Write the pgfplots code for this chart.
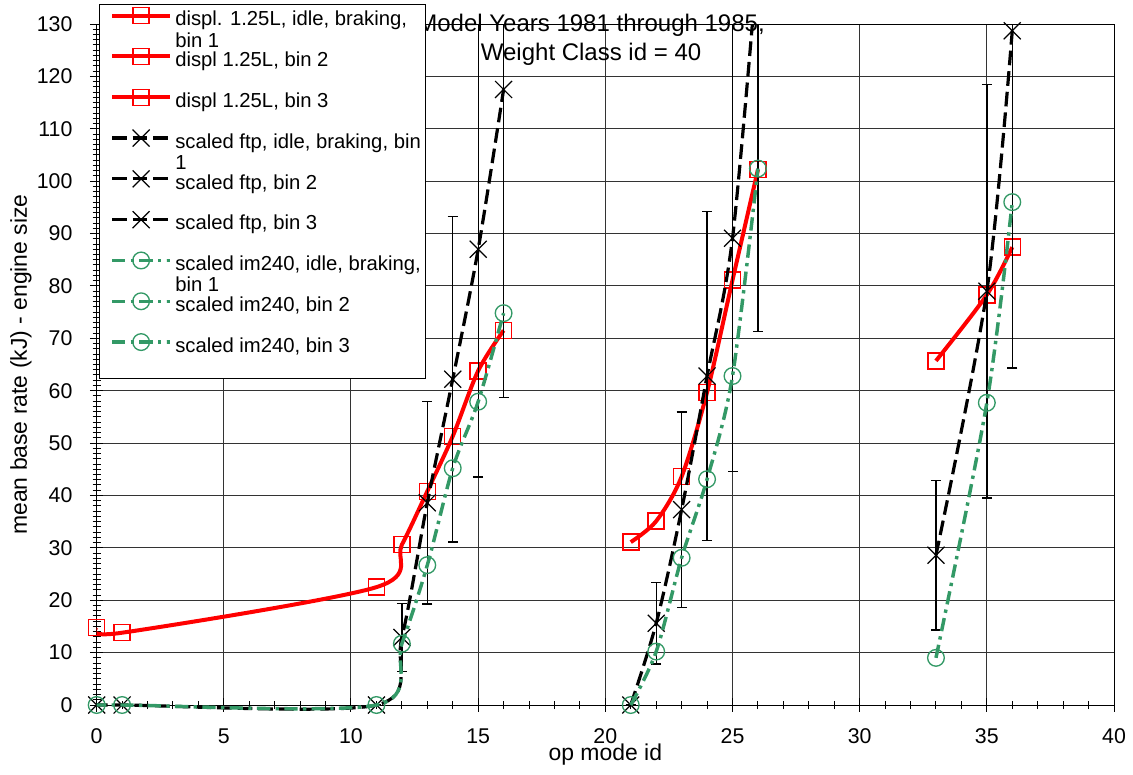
\documentclass[border=0pt]{standalone}
\usepackage{fontspec}
\setmainfont{Liberation Sans}
\usepackage{pgfplots}
\pgfplotsset{compat=1.18}
\definecolor{grn}{RGB}{51,153,102}
\pgfplotsset{
  redst/.style={color=red, line width=3pt, smooth, mark=square, mark size=6pt,
    mark options={solid, line width=1.1pt, fill=none}},
  blkst/.style={color=black, line width=2.4pt, smooth, dash pattern=on 11pt off 4.5pt,
    mark=x, mark size=9pt, mark options={solid, line width=0.9pt}},
  grnst/.style={color=grn, line width=2.6pt, smooth, dash pattern=on 10pt off 4pt on 2.5pt off 4pt,
    mark=o, mark size=6.25pt, mark options={solid, line width=1pt, fill=none}},
  errst/.style={error bars/y dir=both, error bars/y explicit,
    error bars/error bar style={line width=1pt, solid, black},
    error bars/error mark options={rotate=90, mark size=3.75pt, line width=1pt, black, solid}},
}
\begin{document}
\begin{tikzpicture}
\path[use as bounding box] (-72.5pt,-563.25pt) rectangle (777.25pt,18pt);
% ---------------- axis 1: frame, grid, red series, title
\begin{axis}[
  at={(0pt,0pt)}, anchor=north west,
  x=19.075pt, y=3.928846pt,
  xmin=0, xmax=40, ymin=0, ymax=130,
  xtick={0,5,...,40}, ytick={0,10,...,130},
  minor x tick num=4, minor y tick num=9,
  xtick pos=bottom, ytick pos=left,
  tick align=center, major tick length=10pt, minor tick length=6pt,
  tick style={black, line width=0.75pt},
  grid=major, major grid style={black!80, line width=0.75pt},
  axis line style={black, line width=0.75pt},
  tick label style={font=\fontsize{16}{19}\selectfont},
  /pgf/number format/assume math mode=true,
  xticklabel style={anchor=north, inner sep=0pt, yshift=-12.75pt},
  yticklabel style={anchor=east, inner sep=0pt, xshift=-13pt},
  xlabel={op mode id}, ylabel={mean base rate (kJ) - engine size},
  label style={font=\fontsize{17.2}{20}\selectfont},
  xlabel style={at={(axis description cs:0.5,0)}, anchor=base, yshift=-41.5pt},
  ylabel style={at={(axis description cs:-0.0685,0.5)}, anchor=base},
  clip mode=individual,
]
\addplot[redst] coordinates {(0,14.8) (1,13.8) (11,22.5) (12,30.6) (13,40.8) (14,51.3) (15,63.8) (16,71.5)};
\addplot[redst] coordinates {(21,31.1) (22,35.1) (23,43.6) (24,59.7) (25,81.1) (26,102.2)};
\addplot[redst] coordinates {(33,65.7) (35,78.3) (36,87.4)};
\node[anchor=base, font=\fontsize{18}{21}\selectfont, yshift=-5.8pt] at (axis description cs:0.486,1) {Model Years 1981 through 1985,};
\node[anchor=base, font=\fontsize{18}{21}\selectfont, yshift=-27.5pt] at (axis description cs:0.486,1) {Weight Class id = 40};
\end{axis}
% ---------------- axis 2: black and green series, legend
\begin{axis}[
  at={(0pt,0pt)}, anchor=north west,
  x=19.075pt, y=3.928846pt,
  xmin=0, xmax=40, ymin=-2, ymax=130,
  hide axis, clip mode=individual,
  legend cell align=left,
  legend image code/.code={\path[draw=none, fill=none] (0pt,-8pt) rectangle (43.7pt,8pt);
    \draw[mark repeat=2,mark phase=2,#1] plot coordinates {(0pt,0pt) (21.85pt,0pt) (43.7pt,0pt)};},
  legend style={at={(axis description cs:0,1)}, anchor=north west, xshift=10pt, yshift=14.25pt,
    draw=none, fill=none, inner sep=0pt, outer sep=0pt, row sep=14.6pt, column sep=2.25pt,
    font=\fontsize{15.2}{15.8}\selectfont,
    nodes={inner sep=0pt, text height=15.4pt, text depth=0pt}},
]
\addlegendimage{redst}
\addlegendentry{\parbox[t]{220pt}{displ. 1.25L, idle, braking,\\bin 1}}
\addlegendimage{redst}
\addlegendentry{displ 1.25L, bin 2}
\addlegendimage{redst}
\addlegendentry{displ 1.25L, bin 3}
\addplot[blkst, errst] coordinates {(0,0) +- (0,0) (1,0) +- (0,0) (11,0) +- (0,0) (12,12.9) +- (0,6.45) (13,38.6) +- (0,19.3) (14,62.2) +- (0,31.1) (15,87.0) +- (0,43.5) (16,117.5) +- (0,58.75)};
\addlegendentry{\parbox[t]{220pt}{scaled ftp, idle, braking, bin\\1}}
\addplot[blkst, errst] coordinates {(21,0) +- (0,0) (22,15.6) +- (0,7.8) (23,37.3) +- (0,18.65) (24,62.8) +- (0,31.4) (25,89.1) +- (0,44.55) (26,142.6) +- (0,71.3)};
\addlegendentry{scaled ftp, bin 2}
\addplot[blkst, errst] coordinates {(33,28.6) +- (0,14.3) (35,79.0) +- (0,39.5) (36,128.7) +- (0,64.35)};
\addlegendentry{scaled ftp, bin 3}
\addplot[grnst] coordinates {(0,0) (1,0) (11,0) (12,11.7) (13,26.7) (14,45.2) (15,57.9) (16,74.8)};
\addlegendentry{\parbox[t]{220pt}{scaled im240, idle, braking,\\bin 1}}
\addplot[grnst] coordinates {(21,0) (22,10.2) (23,28.1) (24,43.1) (25,62.8) (26,102.4)};
\addlegendentry{scaled im240, bin 2}
\addplot[grnst] coordinates {(33,9.0) (35,57.7) (36,96.0)};
\addlegendentry{scaled im240, bin 3}
\draw[black, line width=0.75pt, fill=white] (axis description cs:0,1) ++(2.5pt,14.8pt) rectangle ++(243.75pt,-280.3pt);
\end{axis}
\end{tikzpicture}
\end{document}
